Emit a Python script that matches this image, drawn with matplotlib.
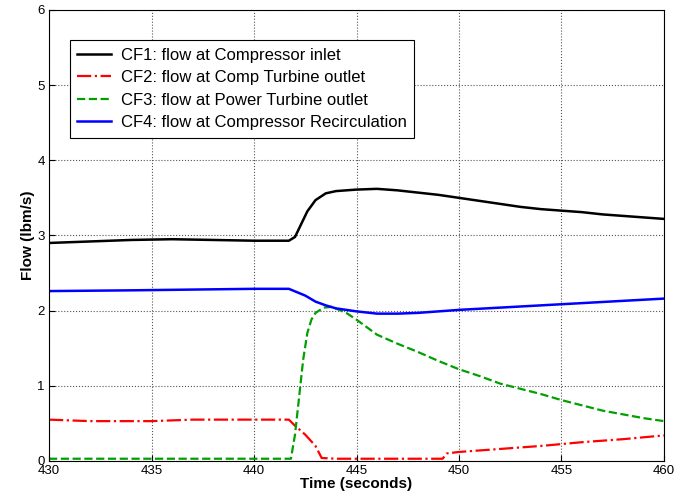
import matplotlib
matplotlib.use("Agg")
import matplotlib.pyplot as plt

plt.rcParams['font.family'] = ['Liberation Sans', 'DejaVu Sans']

# CF1: flow at compressor inlet
t1 = [430, 432, 434, 436, 438, 440, 441.7, 442.0, 442.3, 442.6, 443.0, 443.5, 444, 445, 446,
      447, 448, 449, 450, 451, 452, 453, 454, 455, 456, 457, 458, 459, 460]
cf1 = [2.90, 2.92, 2.94, 2.95, 2.94, 2.93, 2.93, 2.98, 3.15, 3.32, 3.47, 3.56, 3.59, 3.61, 3.62,
       3.60, 3.57, 3.54, 3.50, 3.46, 3.42, 3.38, 3.35, 3.33, 3.31, 3.28, 3.26, 3.24, 3.22]

# CF2: flow at comp turbine outlet
t2 = [430, 432, 435, 437, 439, 441.7, 442.0, 442.5, 443.0, 443.3, 444, 446, 449.2, 449.4,
      450, 452, 454, 456, 458, 460]
cf2 = [0.55, 0.53, 0.53, 0.55, 0.55, 0.55, 0.47, 0.35, 0.20, 0.04, 0.03, 0.03, 0.03, 0.10,
       0.12, 0.16, 0.20, 0.25, 0.29, 0.34]

# CF3: flow at power turbine outlet
t3 = [430, 435, 441.8, 442.0, 442.2, 442.4, 442.6, 442.8, 443.0, 443.4, 443.8, 444.5, 445,
      446, 447, 448, 449, 450, 451, 452, 453, 454, 455, 456, 457, 458, 459, 460]
cf3 = [0.03, 0.03, 0.03, 0.35, 0.85, 1.35, 1.70, 1.88, 1.97, 2.04, 2.05, 1.97, 1.88,
       1.68, 1.56, 1.45, 1.33, 1.22, 1.13, 1.03, 0.96, 0.89, 0.81, 0.74, 0.67, 0.62, 0.57, 0.53]

# CF4: flow at compressor recirculation
t4 = [430, 434, 437, 440, 441.7, 442.5, 443.0, 443.5, 444, 445, 446, 447, 448, 449, 450,
      452, 454, 456, 458, 460]
cf4 = [2.26, 2.27, 2.28, 2.29, 2.29, 2.20, 2.12, 2.07, 2.03, 1.99, 1.96, 1.96, 1.97, 1.99, 2.01,
       2.04, 2.07, 2.10, 2.13, 2.16]

xticks = [430, 435, 440, 445, 450, 455, 460]
yticks = [0, 1, 2, 3, 4, 5, 6]

fig = plt.figure(figsize=(6.75, 4.96), dpi=100)
ax = fig.add_axes([0.0726, 0.0706, 0.9111, 0.9094])

ax.plot(t1, cf1, color='black', lw=1.8, label='CF1: flow at Compressor inlet')
ax.plot(t2, cf2, color='red', lw=1.6, linestyle='-.', label='CF2: flow at Comp Turbine outlet')
ax.plot(t3, cf3, color='#00a000', lw=1.6, linestyle='--', label='CF3: flow at Power Turbine outlet')
ax.plot(t4, cf4, color='blue', lw=1.8, label='CF4: flow at Compressor Recirculation')

ax.set_xlim(430, 460)
ax.set_ylim(0, 6)
ax.set_xticks(xticks)
ax.set_yticks(yticks)
ax.tick_params(direction='in', labelsize=9.5, length=4, pad=3)
ax.grid(True, linestyle=':', color='#555555', linewidth=0.8)
ax.set_xlabel('Time (seconds)', fontsize=11, fontweight='bold', labelpad=0)
ax.set_ylabel('Flow (lbm/s)', fontsize=11, fontweight='bold', labelpad=2)

leg = ax.legend(loc='upper left', bbox_to_anchor=(0.034, 0.933), borderaxespad=0,
                fontsize=12, fancybox=False, framealpha=1, edgecolor='black',
                handlelength=2.0, labelspacing=0.45, borderpad=0.45, handletextpad=0.6)
leg.get_frame().set_linewidth(0.8)

fig.savefig('out.png', dpi=100)
